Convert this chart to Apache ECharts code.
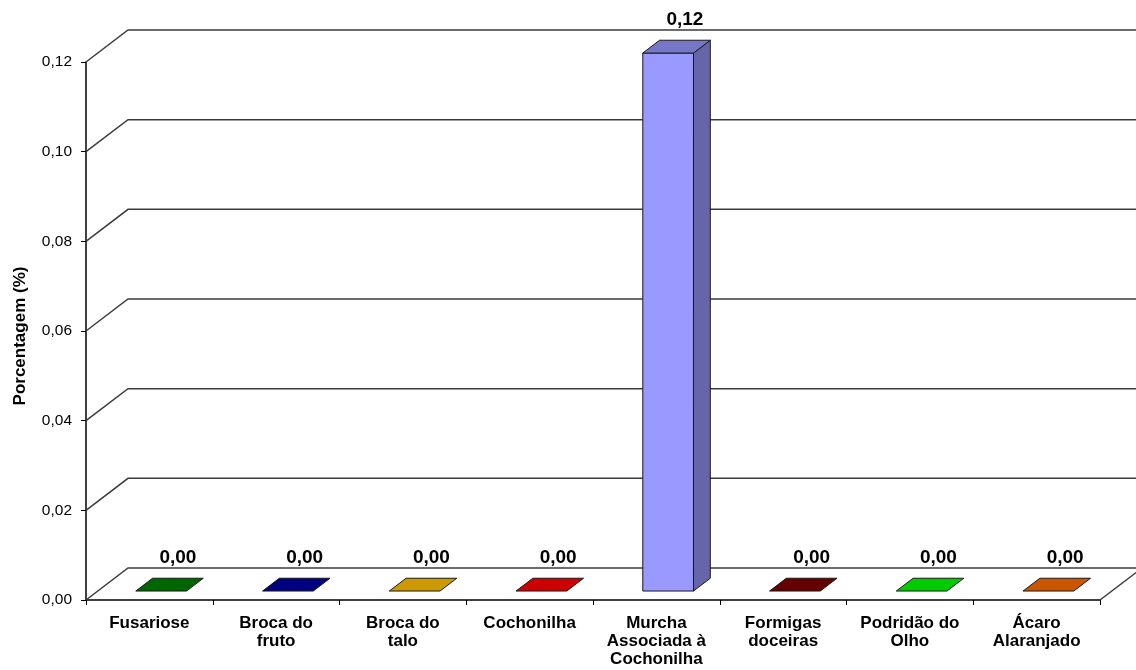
<!DOCTYPE html>
<html>
<head>
<meta charset="utf-8">
<script src="https://cdn.jsdelivr.net/npm/echarts@6/dist/echarts.min.js"></script>
<style>
html,body{margin:0;padding:0;background:#fff;}
#chart{width:1136px;height:670px;}
</style>
</head>
<body>
<div id="chart"></div>
<script>
const categories = ['Fusariose','Broca do\nfruto','Broca do\ntalo','Cochonilha','Murcha\nAssociada à\nCochonilha','Formigas\ndoceiras','Podridão do\nOlho','Ácaro\nAlaranjado'];
const values = [0, 0, 0, 0, 0.12, 0, 0, 0];
const barColors = ['#006600','#000080','#CC9900','#CC0000','#9999FF','#660000','#00CC00','#CC5500'];
const yTicks = [0, 0.02, 0.04, 0.06, 0.08, 0.10, 0.12];
const yTitle = 'Porcentagem (%)';

const FONT = '"Liberation Sans", Arial, sans-serif';
const DX = 42, DY = -32;          // 3D depth offset of the floor/walls
const FRONT = 0.28, DEPTH = 0.40; // bar position / depth as fraction of floor depth
const BARW = 0.40;                // bar width as fraction of category band

function fmt(v){ return v.toFixed(2).replace('.', ','); }

function shade(hex, f){
  const n = parseInt(hex.slice(1),16);
  let r=(n>>16)&255,g=(n>>8)&255,b=n&255;
  r=Math.round(r*f);g=Math.round(g*f);b=Math.round(b*f);
  return 'rgb('+r+','+g+','+b+')';
}

const chart = echarts.init(document.getElementById('chart'), null, {renderer:'canvas'});

const option = {
  animation:false,
  backgroundColor:'#ffffff',
  grid:{left:86, right:36, top:62, bottom:70, containLabel:false, outerBoundsMode:'none'},
  xAxis:{
    type:'category',
    data:categories,
    boundaryGap:true,
    axisLine:{show:true, lineStyle:{color:'#000', width:1.5}},
    axisTick:{show:true, alignWithLabel:false, interval:0, length:5, lineStyle:{color:'#000', width:1}},
    axisLabel:{interval:0, margin:14, fontFamily:FONT, fontWeight:'bold', fontSize:17, lineHeight:18, color:'#000'},
    splitLine:{show:false}
  },
  yAxis:{
    type:'value',
    min:0, max:0.12, interval:0.02,
    name:yTitle,
    nameLocation:'middle',
    nameRotate:90,
    nameGap:57,
    nameTextStyle:{fontFamily:FONT, fontWeight:'bold', fontSize:17, color:'#000', padding:[0,10,0,0]},
    axisLine:{show:true, lineStyle:{color:'#000', width:1.5}},
    axisTick:{show:true, length:5, lineStyle:{color:'#000', width:1}},
    axisLabel:{formatter:fmt, margin:14, fontFamily:FONT, fontSize:15.5, color:'#000'},
    splitLine:{show:false}
  },
  series:[
    {
      type:'custom',
      name:'walls',
      z:1,
      silent:true,
      data: yTicks.map(v => [0, v]),
      encode:{x:0, y:1},
      renderItem:function(params, api){
        const v = api.value(1);
        const n = categories.length;
        const bw = api.size([1,0])[0];
        const pL = api.coord([0, v]);
        const pR = api.coord([n-1, v]);
        const left = pL[0] - bw/2, right = pR[0] + bw/2, y = pL[1];
        const children = [{
          type:'polyline',
          shape:{points:[[left,y],[left+DX,y+DY],[right+DX,y+DY]]},
          style:{stroke:'#3c3c3c', lineWidth:1.5, fill:null}
        }];
        if (v === 0) {
          children.push({
            type:'line',
            shape:{x1:right, y1:y, x2:right+DX, y2:y+DY},
            style:{stroke:'#3c3c3c', lineWidth:1.5}
          });
        }
        return {type:'group', children:children};
      }
    },
    {
      type:'custom',
      name:'bars',
      z:2,
      data: values.map((v,i) => [i, v]),
      encode:{x:0, y:1},
      renderItem:function(params, api){
        const i = api.value(0), v = api.value(1);
        const bw = api.size([1,0])[0];
        const w = bw*BARW;
        const top = api.coord([i, v]);
        const base = api.coord([i, 0]);
        const fx = DX*FRONT, fy = DY*FRONT, dx = DX*DEPTH, dy = DY*DEPTH;
        const x0 = top[0] - w/2 + fx, x1 = x0 + w;
        const yt = top[1] + fy, yb = base[1] + fy;
        const col = barColors[i];
        const children = [];
        const stroke = '#1a1a1a';
        if (yb - yt > 0.5) {
          children.push({type:'rect', shape:{x:x0, y:yt, width:w, height:yb-yt},
            style:{fill:col, stroke:stroke, lineWidth:1}});
          children.push({type:'polygon', shape:{points:[[x1,yt],[x1+dx,yt+dy],[x1+dx,yb+dy],[x1,yb]]},
            style:{fill:shade(col,0.66), stroke:stroke, lineWidth:1}});
        }
        children.push({type:'polygon', shape:{points:[[x0,yt],[x1,yt],[x1+dx,yt+dy],[x0+dx,yt+dy]]},
          style:{fill:(yb - yt > 0.5) ? shade(col,0.78) : col, stroke:stroke, lineWidth:1}});
        children.push({type:'text', x:(x0+x1)/2 + dx, y:yt + dy - 20,
          style:{text:fmt(v), fontFamily:FONT, fontWeight:'bold', fontSize:19, fill:'#000',
            align:'center', verticalAlign:'middle'}});
        return {type:'group', children:children};
      }
    }
  ]
};
chart.setOption(option);
</script>
</body>
</html>
